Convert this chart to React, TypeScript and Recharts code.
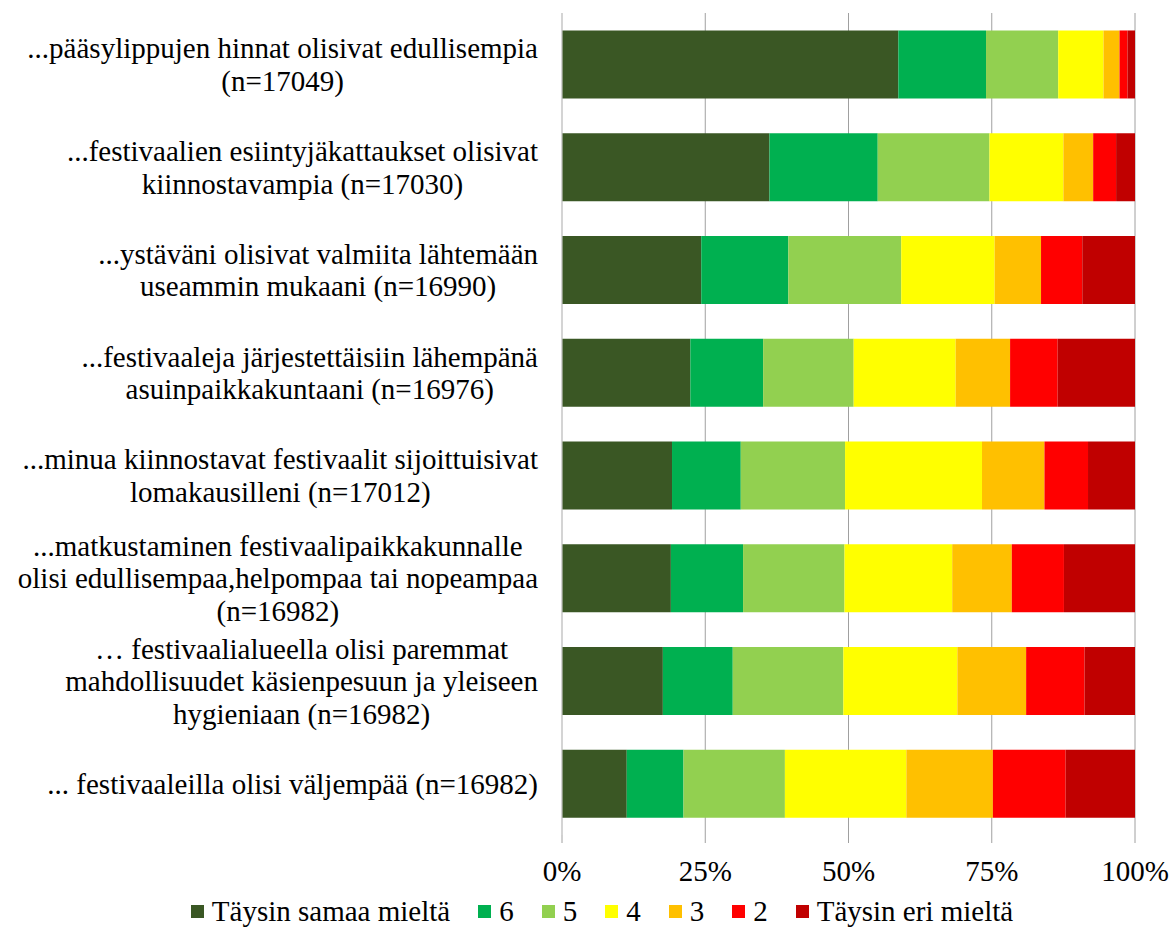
import React from "react";
import { BarChart, Bar, XAxis, YAxis, CartesianGrid, Legend } from "recharts";

const FONT = '"Liberation Serif", "Times New Roman", serif';
const FS = 29;

const categoryLines: string[][] = [
  ["...pääsylippujen hinnat olisivat edullisempia", "(n=17049)"],
  ["...festivaalien esiintyjäkattaukset olisivat", "kiinnostavampia (n=17030)"],
  ["...ystäväni olisivat valmiita lähtemään", "useammin mukaani (n=16990)"],
  ["...festivaaleja järjestettäisiin lähempänä", "asuinpaikkakuntaani (n=16976)"],
  ["...minua kiinnostavat festivaalit sijoittuisivat", "lomakausilleni (n=17012)"],
  ["...matkustaminen festivaalipaikkakunnalle", "olisi edullisempaa,helpompaa tai nopeampaa", "(n=16982)"],
  ["… festivaalialueella olisi paremmat", "mahdollisuudet käsienpesuun ja yleiseen", "hygieniaan (n=16982)"],
  ["... festivaaleilla olisi väljempää (n=16982)"],
];

const seriesNames = ["Täysin samaa mieltä", "6", "5", "4", "3", "2", "Täysin eri mieltä"];
const seriesColors = ["#3A5724", "#00B050", "#92D050", "#FFFF00", "#FFC000", "#FF0000", "#C00000"];

const s7 = [58.7, 36.2, 24.3, 22.4, 19.2, 19.0, 17.6, 11.3];
const s6 = [15.3, 18.9, 15.2, 12.7, 12.0, 12.6, 12.2, 9.9];
const s5 = [12.6, 19.5, 19.7, 15.8, 18.2, 17.7, 19.3, 17.7];
const s4 = [7.9, 12.9, 16.3, 17.8, 23.9, 18.8, 19.9, 21.2];
const s3 = [2.8, 5.2, 8.1, 9.5, 10.9, 10.4, 12.0, 15.1];
const s2 = [1.4, 4.0, 7.2, 8.3, 7.6, 9.1, 10.2, 12.7];
const s1 = [1.3, 3.3, 9.2, 13.5, 8.2, 12.4, 8.8, 12.1];

const xTicks = [0, 25, 50, 75, 100];

const seriesValues = [s7, s6, s5, s4, s3, s2, s1];
const keys = ["k7", "k6", "k5", "k4", "k3", "k2", "k1"];

const data = categoryLines.map((lines, i) => {
  const row: any = { name: lines.join(" ") };
  keys.forEach((k, j) => (row[k] = seriesValues[j][i]));
  return row;
});

let ctx: CanvasRenderingContext2D | null = null;
function textWidth(s: string): number {
  if (!ctx) ctx = document.createElement("canvas").getContext("2d");
  if (!ctx) return s.length * 12;
  ctx.font = `${FS}px ${FONT}`;
  return ctx.measureText(s).width;
}

const LINE_H = 32.5;

const YTick = (props: any) => {
  const { x, y, payload } = props;
  let idx = props.index;
  if (idx === undefined) idx = data.findIndex((d) => d.name === payload.value);
  const lines = categoryLines[idx] || [String(payload.value)];
  const w = Math.max(...lines.map(textWidth));
  const cx = x - 24 - w / 2;
  const n = lines.length;
  return (
    <g>
      {lines.map((l, i) => (
        <text
          key={i}
          x={cx}
          y={y + (i - (n - 1) / 2) * LINE_H}
          dy="0.35em"
          textAnchor="middle"
          fontFamily={FONT}
          fontSize={FS}
          fill="#000"
        >
          {l}
        </text>
      ))}
    </g>
  );
};

const LegendContent = () => (
  <div
    style={{
      display: "flex",
      justifyContent: "center",
      alignItems: "center",
      fontFamily: FONT,
      fontSize: FS,
      color: "#000",
      whiteSpace: "nowrap",
    }}
  >
    {seriesNames.map((n, i) => (
      <div key={n} style={{ display: "flex", alignItems: "center", marginLeft: i === 0 ? 0 : 28 }}>
        <div style={{ width: 13, height: 13, background: seriesColors[i], marginRight: 8 }} />
        <span>{n}</span>
      </div>
    ))}
  </div>
);

export default function App() {
  return (
    <div style={{ position: "absolute", left: 0, top: 0, width: 1172, height: 943, background: "#fff" }}>
      <BarChart
        width={1172}
        height={943}
        data={data}
        layout="vertical"
        margin={{ top: 13, right: 37, left: 0, bottom: 58 }}
        barCategoryGap="17%"
      >
        <CartesianGrid horizontal={false} vertical={true} stroke="#a0a0a0" strokeWidth={1} />
        <XAxis
          type="number"
          domain={[0, 100]}
          ticks={xTicks}
          tickFormatter={(v: number) => `${v}%`}
          axisLine={false}
          tickLine={{ stroke: "#a0a0a0" }}
          tickSize={8}
          tickMargin={17}
          height={50}
          interval={0}
          tick={{ fill: "#000", fontSize: FS, fontFamily: FONT }}
        />
        <YAxis
          type="category"
          dataKey="name"
          width={562}
          tickLine={false}
          tickSize={0}
          tickMargin={0}
          axisLine={{ stroke: "#d9d9d9" }}
          interval={0}
          tick={<YTick />}
        />
        {keys.map((k, j) => (
          <Bar
            key={k}
            dataKey={k}
            name={seriesNames[j]}
            stackId="a"
            fill={seriesColors[j]}
            isAnimationActive={false}
          />
        ))}
        <Legend
          layout="horizontal"
          verticalAlign="middle"
          align="center"
          wrapperStyle={{ top: 895, left: 16, width: 1172, height: 36 }}
          content={<LegendContent />}
        />
      </BarChart>
    </div>
  );
}
